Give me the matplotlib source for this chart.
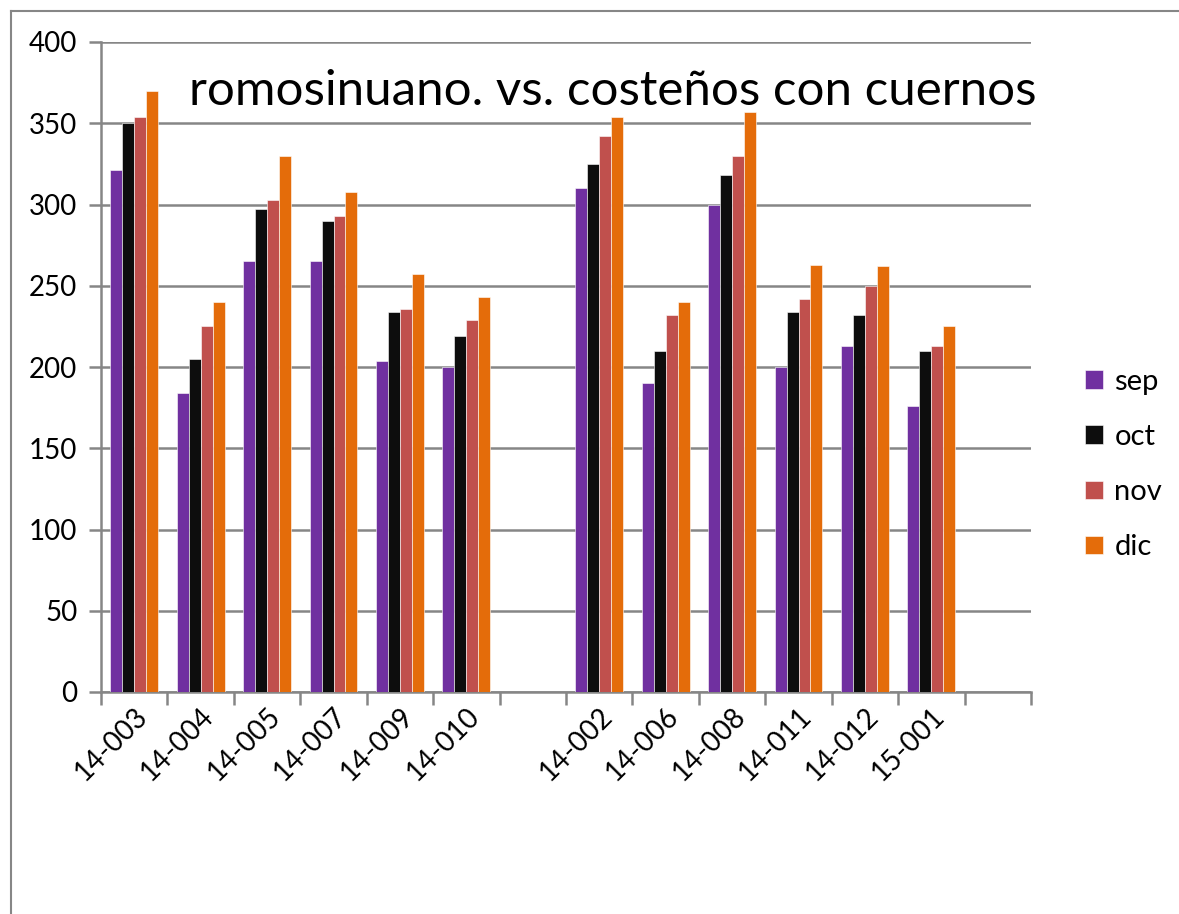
import matplotlib.pyplot as plt
import numpy as np
from matplotlib.lines import Line2D

plt.rcParams['font.family'] = ['Lato', 'DejaVu Sans']

# categorias (las vacias son huecos del grafico original)
categorias = ["14-003", "14-004", "14-005", "14-007", "14-009", "14-010", "",
              "14-002", "14-006", "14-008", "14-011", "14-012", "15-001", ""]
meses = ["sep", "oct", "nov", "dic"]
sep = [321, 184, 265, 265, 204, 200, np.nan, 310, 190, 300, 200, 213, 176, np.nan]
oct_ = [350, 205, 297, 290, 234, 219, np.nan, 325, 210, 318, 234, 232, 210, np.nan]
nov = [354, 225, 303, 293, 236, 229, np.nan, 342, 232, 330, 242, 250, 213, np.nan]
dic = [370, 240, 330, 308, 257, 243, np.nan, 354, 240, 357, 263, 262, 225, np.nan]
colores = ["#7030A0", "#0D0D0D", "#C0504D", "#E46C0A"]

fig = plt.figure(figsize=(11.79, 9.14), dpi=100)
ax = fig.add_axes([101/1179, 222/914, 930/1179, 650/914])

# borde exterior del area del grafico (arriba e izquierda)
fig.add_artist(Line2D([11/1179, 1.0], [1 - 11/914, 1 - 11/914], transform=fig.transFigure,
                      color="#868686", linewidth=1.5))
fig.add_artist(Line2D([11/1179, 11/1179], [0.0, 1 - 11/914], transform=fig.transFigure,
                      color="#868686", linewidth=1.5))

x = np.arange(len(categorias))
w = 0.18
for i, (serie, nombre) in enumerate(zip([sep, oct_, nov, dic], meses)):
    ax.bar(x + (i - 1.5) * w, serie, width=w, color=colores[i], label=nombre,
           edgecolor="white", linewidth=0.4, zorder=3)

ax.set_xlim(-0.5, len(categorias) - 0.5)
ax.set_ylim(0, 400)
ax.set_yticks(range(0, 401, 50))
ax.yaxis.grid(True, color="#868686", linewidth=1.8, zorder=0)
ax.set_axisbelow(True)

# marcas del eje x entre categorias
ax.set_xticks(np.arange(-0.5, len(categorias), 1))
ax.set_xticklabels([])
ax.set_xticks(x, minor=True)
ax.set_xticklabels(categorias, minor=True, rotation=45, ha="right", rotation_mode="anchor",
                   fontsize=20)
ax.tick_params(axis="x", which="minor", length=0, pad=8)
ax.tick_params(axis="x", which="major", length=9, width=1.8, color="#868686")
ax.tick_params(axis="y", length=9, width=1.8, color="#868686", labelsize=20, pad=8)

for s in ["top", "right"]:
    ax.spines[s].set_visible(False)
for s in ["left", "bottom"]:
    ax.spines[s].set_color("#868686")
    ax.spines[s].set_linewidth(1.8)

ax.text(0.095, 0.925, "romosinuano. vs. costeños con cuernos", transform=ax.transAxes,
        fontsize=35.5, va="center", ha="left")

ax.legend(loc="center left", bbox_to_anchor=(1.03, 0.35), frameon=False, fontsize=21,
          handlelength=0.6, handleheight=0.6, labelspacing=1.0, handletextpad=0.4)

fig.savefig("out.png", dpi=100)
